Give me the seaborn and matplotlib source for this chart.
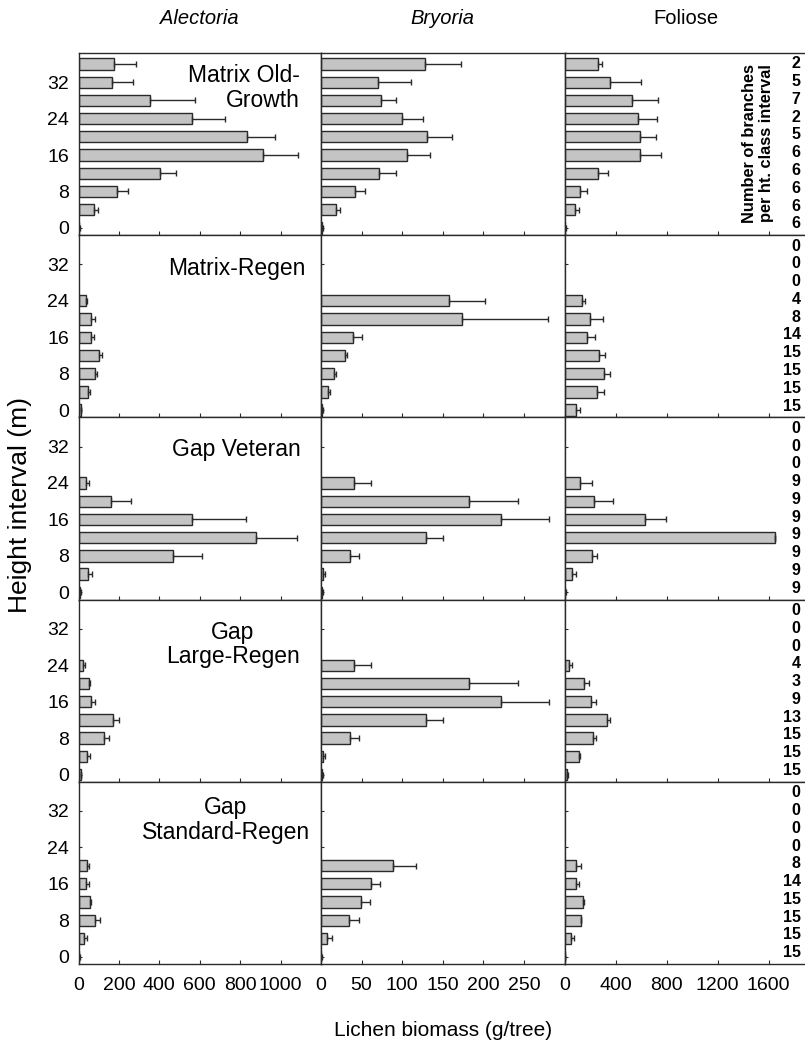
import matplotlib
matplotlib.use("Agg")
import matplotlib.pyplot as plt
import numpy as np
import pandas as pd
import seaborn as sns

nan = np.nan

HEIGHTS = [0, 4, 8, 12, 16, 20, 24, 28, 32, 36]
SITES = ["Matrix Old-\nGrowth", "Matrix-Regen", "Gap Veteran", "Gap\nLarge-Regen", "Gap\nStandard-Regen"]
GROUPS = ["Alectoria", "Bryoria", "Foliose"]

# mean biomass per height class (0 m ... 36 m), one list per stand type
ALE_MEAN = [
    [2, 76, 190, 401, 914, 836, 562, 356, 165, 176],
    [11, 49, 81, 99, 63, 63, 39, nan, nan, nan],
    [8, 47, 467, 878, 562, 160, 35, nan, nan, nan],
    [10, 44, 125, 171, 64, 52, 20, nan, nan, nan],
    [3, 27, 83, 58, 37, 40, nan, nan, nan, nan],
]
ALE_ERR = [
    [3, 21, 54, 79, 170, 137, 165, 220, 107, 109],
    [3, 10, 11, 16, 16, 21, 3, nan, nan, nan],
    [3, 20, 145, 204, 265, 102, 15, nan, nan, nan],
    [2, 11, 26, 28, 16, 7, 10, nan, nan, nan],
    [2, 15, 25, 3, 15, 13, nan, nan, nan, nan],
]
BRY_MEAN = [
    [1, 18, 42, 72, 106, 131, 100, 74, 70, 128],
    [1, 9, 16, 29, 40, 174, 158, nan, nan, nan],
    [1, 3, 36, 129, 222, 182, 41, nan, nan, nan],
    [1, 3, 36, 129, 222, 182, 41, nan, nan, nan],
    [0.5, 8, 34, 49, 61, 89, nan, nan, nan, nan],
]
BRY_ERR = [
    [1.5, 5, 12, 21, 28, 31, 26, 18, 41, 45],
    [1.5, 2.5, 2.5, 3, 11, 106, 44, nan, nan, nan],
    [1, 1.6, 11, 21, 59, 61, 21, nan, nan, nan],
    [1, 1.6, 11, 21, 59, 61, 21, nan, nan, nan],
    [1, 5, 13, 11, 12, 28, nan, nan, nan, nan],
]
FOL_MEAN = [
    [3, 84, 125, 261, 593, 593, 578, 525, 355, 261],
    [91, 251, 308, 274, 180, 196, 141, nan, nan, nan],
    [3, 57, 212, 1649, 627, 230, 125, nan, nan, nan],
    [21, 110, 220, 332, 204, 154, 39, nan, nan, nan],
    [3, 54, 126, 142, 94, 94, nan, nan, nan, nan],
]
FOL_ERR = [
    [5, 28, 52, 79, 160, 120, 143, 204, 243, 32],
    [27, 60, 47, 42, 58, 104, 16, nan, nan, nan],
    [5, 34, 39, 0, 165, 149, 87, nan, nan, nan],
    [8, 15, 23, 23, 39, 38, 21, nan, nan, nan],
    [3, 20, 7, 12, 20, 39, nan, nan, nan, nan],
]
N_BRANCHES = [
    [6, 6, 6, 6, 6, 5, 2, 7, 5, 2],
    [15, 15, 15, 15, 14, 8, 4, 0, 0, 0],
    [9, 9, 9, 9, 9, 9, 9, 0, 0, 0],
    [15, 15, 15, 13, 9, 3, 4, 0, 0, 0],
    [15, 15, 15, 15, 14, 8, 0, 0, 0, 0],
]

X_LIMS = [(0, 1200), (0, 300), (0, 1900)]
X_TICKS = [[0, 200, 400, 600, 800, 1000], [0, 50, 100, 150, 200, 250], [0, 400, 800, 1200, 1600]]

sns.set_style("ticks")
plt.rcParams["font.family"] = ["Liberation Sans", "DejaVu Sans"]
plt.rcParams["text.color"] = "black"
plt.rcParams["xtick.labelcolor"] = "black"
plt.rcParams["ytick.labelcolor"] = "black"

W, H = 805, 1045
fig = plt.figure(figsize=(W / 100, H / 100), dpi=100)


def rect(x, y, w, h):
    return [x / W, 1 - (y + h) / H, w / W, h / H]


col_x = [78.5, 321.0, 564.5]
col_w = [242.5, 243.5, 242.5]
row_top, row_h = 53.0, 182.2
edge = "#2a2a2a"

label_pos = [  # (x px, y px below row top, ha)
    (300, 35, "right"),
    (237, 33, "center"),
    (236, 32, "center"),
    (233, 45, "center"),
    (226, 38, "center"),
]

for r in range(5):
    means = [ALE_MEAN[r], BRY_MEAN[r], FOL_MEAN[r]]
    errs = [ALE_ERR[r], BRY_ERR[r], FOL_ERR[r]]
    for c in range(3):
        ax = fig.add_axes(rect(col_x[c], row_top + r * row_h, col_w[c], row_h))
        df = pd.DataFrame({"height": HEIGHTS, "value": means[c]}).dropna()
        sns.barplot(data=df, x="value", y="height", orient="h", native_scale=True,
                    width=0.62, color="#c4c4c4", saturation=1, edgecolor=edge,
                    linewidth=1, errorbar=None, ax=ax)
        m = np.array(means[c], dtype=float)
        e = np.array(errs[c], dtype=float)
        ax.errorbar(m, HEIGHTS, xerr=[np.zeros_like(e), e], fmt="none",
                    ecolor=edge, elinewidth=1, capsize=2.5, capthick=1, zorder=3)
        ax.set_xlim(*X_LIMS[c])
        ax.set_ylim(-1.6, 38.4)
        ax.set_xticks(X_TICKS[c])
        ax.set_yticks([0, 8, 16, 24, 32])
        ax.set_xlabel("")
        ax.set_ylabel("")
        for s in ax.spines.values():
            s.set_color(edge)
            s.set_linewidth(1)
        ax.tick_params(axis="x", direction="in", length=3, width=0.8, color=edge,
                       labelsize=14, pad=9, labelbottom=(r == 4))
        ax.tick_params(axis="y", direction="in", length=2, width=0.8, color=edge,
                       labelsize=14, pad=7, labelleft=(c == 0))

        if c == 0:
            lx, ly, ha = label_pos[r]
            ax.text((lx - col_x[0]) / col_w[0], 1 - ly / row_h, SITES[r], transform=ax.transAxes,
                    ha=ha, va="center", multialignment=ha, fontsize=16.5, linespacing=1.1)
        if c == 2:
            tr = ax.get_yaxis_transform()
            for h, n in zip(HEIGHTS, N_BRANCHES[r]):
                ax.text((800.5 - col_x[2]) / col_w[2], 0.9 + h * 0.975, str(n), transform=tr,
                        ha="right", va="center", fontsize=11.5, fontweight="bold")
            if r == 0:
                ax.text((758 - col_x[2]) / col_w[2], 0.505, "Number of branches\nper ht. class interval",
                        transform=ax.transAxes, rotation=90, ha="center", va="center",
                        fontsize=11.8, fontweight="bold", linespacing=1.15)

for c, name in enumerate(GROUPS):
    fig.text((col_x[c] + col_w[c] / 2) / W, 1 - 18 / H, name, ha="center", va="center",
             fontsize=14.5, style="italic" if c < 2 else "normal")

fig.text(443 / W, 1 - 1030 / H, "Lichen biomass (g/tree)", ha="center", va="center", fontsize=15)
fig.text(20 / W, 1 - 505 / H, "Height interval (m)", ha="center", va="center",
         rotation=90, fontsize=19)

fig.savefig("out.png", dpi=100)
